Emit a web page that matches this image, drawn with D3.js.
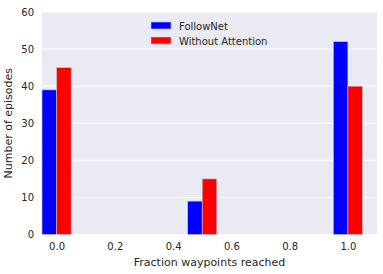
<!DOCTYPE html>
<html>
<head>
<meta charset="utf-8">
<script src="https://cdn.jsdelivr.net/npm/d3@7"></script>
<style>
    body { margin: 0; background: #fff; }
    text { font-family: "DejaVu Sans", sans-serif; fill: #262626; }
</style>
</head>
<body>
<div id="chart"></div>
<script>
// data
let fractions = [0.0, 0.5, 1.0];
let followNet = [39, 9, 52];
let withoutAttention = [45, 15, 40];
let seriesNames = ["FollowNet", "Without Attention"];
let seriesColors = ["#0000ff", "#ff0000"];
let xTicks = [0.0, 0.2, 0.4, 0.6, 0.8, 1.0];
let yTicks = [0, 10, 20, 30, 40, 50, 60];
let barWidth = 0.05;

let W = 383, H = 274;
let margin = {top: 12, right: 6, bottom: 39.5, left: 42};
let width = W - margin.left - margin.right;
let height = H - margin.top - margin.bottom;

let svg = d3.select("#chart").append("svg")
    .attr("width", W)
    .attr("height", H)
    .append("g")
    .attr("transform", `translate(${margin.left},${margin.top})`);

let x = d3.scaleLinear().domain([-0.05, 1.1]).range([0, width]);
let y = d3.scaleLinear().domain([0, 60]).range([height, 0]);

// background
svg.append("rect")
    .attr("width", width)
    .attr("height", height)
    .attr("fill", "#eaeaf2");

// horizontal grid
svg.selectAll(".grid")
    .data(yTicks)
    .enter().append("line")
    .attr("x1", 0).attr("x2", width)
    .attr("y1", d => y(d)).attr("y2", d => y(d))
    .attr("stroke", "#fff")
    .attr("stroke-width", 1);

// bars
let series = [followNet, withoutAttention];
series.forEach((vals, i) => {
    svg.selectAll(".bar" + i)
        .data(fractions.map((f, j) => ({f: f, v: vals[j]})))
        .enter().append("rect")
        .attr("x", d => x(i === 0 ? d.f - barWidth : d.f))
        .attr("width", x(barWidth) - x(0))
        .attr("y", d => y(d.v))
        .attr("height", d => height - y(d.v))
        .attr("fill", seriesColors[i])
        .attr("stroke", "#c8c8d0")
        .attr("stroke-width", 0.6);
});

// axes
let xAxis = svg.append("g")
    .attr("transform", `translate(0,${height})`)
    .call(d3.axisBottom(x).tickValues(xTicks).tickFormat(d3.format(".1f")).tickSize(0).tickPadding(8));
let yAxis = svg.append("g")
    .call(d3.axisLeft(y).tickValues(yTicks).tickSize(0).tickPadding(8));
[xAxis, yAxis].forEach(a => {
    a.select(".domain").remove();
    a.selectAll("text").attr("font-size", 10).attr("font-family", "DejaVu Sans").attr("fill", "#262626");
});

// axis labels
svg.append("text")
    .attr("x", width / 2)
    .attr("y", height + 31)
    .attr("text-anchor", "middle")
    .attr("font-size", 11)
    .text("Fraction waypoints reached");

svg.append("text")
    .attr("transform", `translate(${-30},${height / 2}) rotate(-90)`)
    .attr("text-anchor", "middle")
    .attr("font-size", 11)
    .text("Number of episodes");

// legend
let legend = svg.append("g").attr("transform", "translate(109,10)");
seriesNames.forEach((name, i) => {
    let g = legend.append("g").attr("transform", `translate(0,${i * 15})`);
    g.append("rect")
        .attr("width", 20).attr("height", 7)
        .attr("fill", seriesColors[i])
        .attr("stroke", "#c8c8d0").attr("stroke-width", 0.6);
    g.append("text")
        .attr("x", 28).attr("y", 7.5)
        .attr("font-size", 10)
        .text(name);
});
</script>
</body>
</html>
